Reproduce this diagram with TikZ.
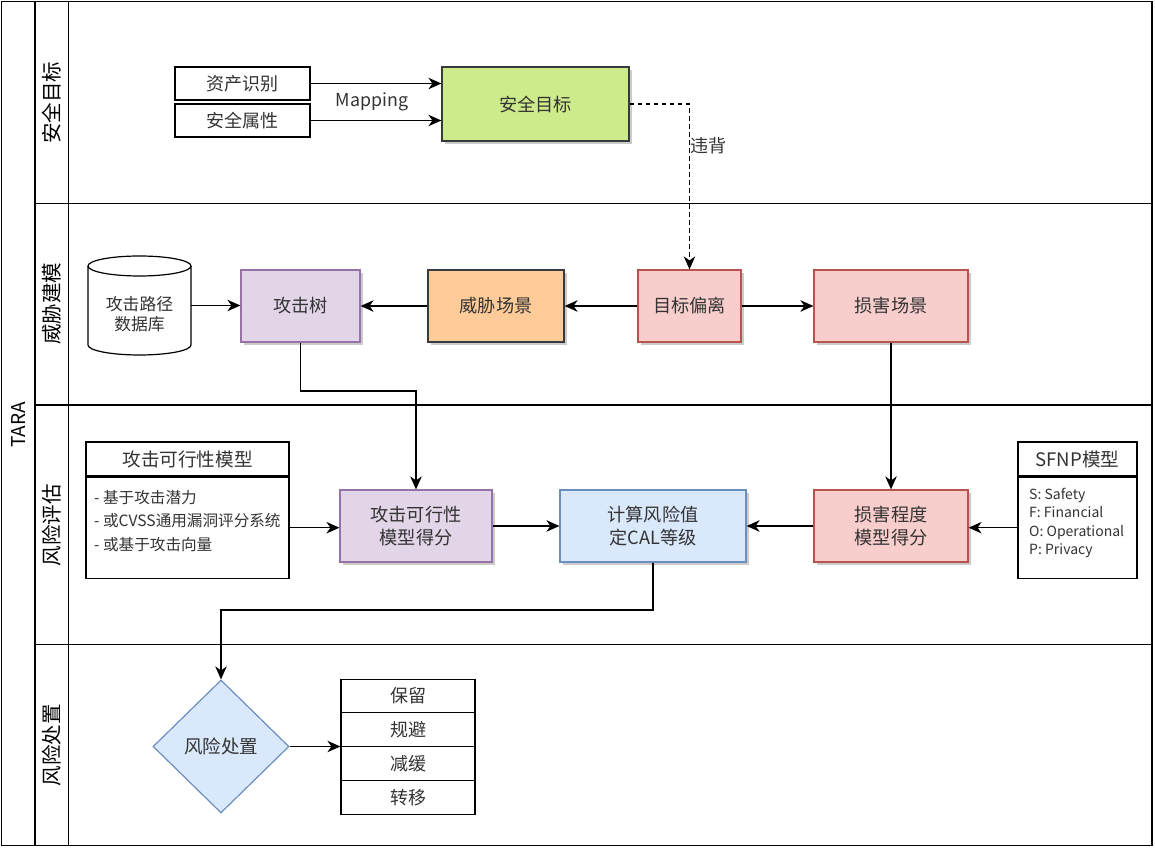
\documentclass[tikz,border=0pt]{standalone}
\usepackage{fontspec}
\setmainfont{Noto Sans CJK SC}
\usetikzlibrary{arrows.meta,shapes.geometric,shadows}
\definecolor{txt}{HTML}{333333}
\definecolor{gfill}{HTML}{CDEB8B}
\definecolor{gdraw}{HTML}{36393D}
\definecolor{pfill}{HTML}{E1D5E7}
\definecolor{pdraw}{HTML}{9673A6}
\definecolor{ofill}{HTML}{FFCC99}
\definecolor{rfill}{HTML}{F8CECC}
\definecolor{rdraw}{HTML}{B85450}
\definecolor{bfill}{HTML}{DAE8FC}
\definecolor{bdraw}{HTML}{6C8EBF}
\begin{document}
\begin{tikzpicture}[x=1pt,y=1pt,
  lane/.style={line width=1.3pt,draw=black},
  shadowed/.style={drop shadow={shadow xshift=3pt,shadow yshift=-3pt,fill=black!45,opacity=0.45}},
  box/.style={rectangle,draw,line width=1.2pt,minimum height=72pt,inner sep=0pt,align=center,text=txt,font=\fontsize{18.2}{23}\selectfont,shadowed},
  plain/.style={rectangle,draw=black,fill=white,line width=1.2pt,inner sep=0pt,align=center,text=txt,font=\fontsize{18}{22}\selectfont},
  lanelabel/.style={rotate=90,font=\fontsize{20.5}{24}\selectfont,text=black},
  arr/.style={-{Stealth[length=13pt,width=11.5pt,inset=4pt]},line width=1.3pt,draw=black},
  dasharr/.style={arr,dash pattern=on 4.5pt off 3.5pt},
  small/.style={font=\fontsize{15.6}{23.5}\selectfont,text=txt,align=left,inner sep=0pt},
  tiny/.style={font=\fontsize{14}{18.5}\selectfont,text=txt,align=left,inner sep=0pt}
]
\useasboundingbox (0,0) rectangle (1155,849);

% swimlane frame
\draw[lane] (1.5,3.5) rectangle (1152,847.5);
\draw[lane] (35,3.5) -- (35,847.5);
\draw[lane] (68.5,3.5) -- (68.5,847.5);
\draw[lane] (35,645.7) -- (1152,645.7);
\draw[lane] (35,444) -- (1152,444);
\draw[lane] (35,204.7) -- (1152,204.7);

\node[rotate=90,font=\fontsize{19}{22}\selectfont] (tara) at (18.5,424) {TARA};
\node[lanelabel] (l1) at (51.5,746) {安全目标};
\node[lanelabel] (l2) at (51.5,545) {威胁建模};
\node[lanelabel] (l3) at (51.5,324) {风险评估};
\node[lanelabel] (l4) at (51.5,104) {风险处置};

% lane 1
\node[plain,minimum width=135pt,minimum height=33pt] (asset) at (242.5,765.5) {资产识别};
\node[plain,minimum width=135pt,minimum height=33pt] (prop) at (242.5,728.5) {安全属性};
\node[box,fill=gfill,draw=gdraw,minimum width=187pt,minimum height=74pt] (goal) at (535.5,745) {安全目标};
\node[text=txt,font=\fontsize{17.8}{20}\selectfont] (map) at (372,747) {Mapping};
\draw[arr] (asset.east) -- (asset.east -| goal.west);
\draw[arr] (prop.east) -- (prop.east -| goal.west);

% lane 2
\draw[fill=white,line width=1.2pt] (88,583) -- (88,504) arc[start angle=180,end angle=360,x radius=51.5,y radius=10] -- (191,583) arc[start angle=0,end angle=180,x radius=51.5,y radius=10] -- cycle;
\draw[line width=1.2pt] (88,583) arc[start angle=180,end angle=360,x radius=51.5,y radius=10];
\node[draw=none,minimum width=103pt,minimum height=99pt,inner sep=0pt] (db) at (139.5,543.5) {};
\node[text=txt,font=\fontsize{16.8}{19.5}\selectfont,align=center] (dbl) at (139.5,535) {攻击路径\\数据库};

\node[box,fill=pfill,draw=pdraw,minimum width=119pt] (tree) at (300.5,543) {攻击树};
\node[box,fill=ofill,draw=gdraw,minimum width=136pt] (threat) at (496,543) {威胁场景};
\node[box,fill=rfill,draw=rdraw,minimum width=103pt] (dev) at (689.5,543) {目标偏离};
\node[box,fill=rfill,draw=rdraw,minimum width=154pt] (dmg) at (891,543) {损害场景};

\draw[dasharr] (goal.east) -| (dev.north);
\node[text=txt,font=\fontsize{18}{20}\selectfont] (viol) at (708,703) {违背};

\draw[arr] (db.east) -- (db.east -| tree.west);
\draw[arr] (threat.west) -- (tree.east);
\draw[arr] (dev.west) -- (threat.east);
\draw[arr] (dev.east) -- (dmg.west);

% lane 3
\node[plain,minimum width=203pt,minimum height=34pt,font=\fontsize{18.6}{22}\selectfont] (afmh) at (187.5,390) {攻击可行性模型};
\node[plain,minimum width=203pt,minimum height=101pt,anchor=north] (afm) at (afmh.south) {};
\node[small,anchor=west] (afmt) at (94,328) {- 基于攻击潜力\\- 或CVSS通用漏洞评分系统\\- 或基于攻击向量};

\node[box,fill=pfill,draw=pdraw,minimum width=152pt] (score) at (416,323) {攻击可行性\\模型得分};
\node[box,fill=bfill,draw=bdraw,minimum width=186pt] (cal) at (653,323) {计算风险值\\定CAL等级};
\node[box,fill=rfill,draw=rdraw,minimum width=154pt] (deg) at (891,323) {损害程度\\模型得分};

\node[plain,minimum width=119pt,minimum height=34pt,font=\fontsize{18.6}{22}\selectfont] (sfh) at (1077.5,390) {SFNP模型};
\node[plain,minimum width=119pt,minimum height=101pt,anchor=north] (sf) at (sfh.south) {};
\node[tiny,anchor=west] (sft) at (1029,326) {S: Safety\\F: Financial\\O: Operational\\P: Privacy};

\draw[arr] (tree.south) |- (416,458) -- (score.north);
\draw[arr] (dmg.south) -- (deg.north);
\draw[arr] (afm.east) -- (afm.east -| score.west);
\draw[arr] (score.east) -- (cal.west);
\draw[arr] (deg.west) -- (cal.east);
\draw[arr] (sf.west) -- (sf.west -| deg.east);

% lane 4
\node[diamond,draw=bdraw,fill=bfill,line width=1.2pt,minimum width=136pt,minimum height=133pt,inner sep=0pt,text=txt,font=\fontsize{18.5}{20}\selectfont] (treat) at (221,102.5) {风险处置};
\draw[arr] (cal.south) |- (221,239) -- (treat.north);

\node[plain,minimum width=134pt,minimum height=33.75pt] (o1) at (408,153) {保留};
\node[plain,minimum width=134pt,minimum height=33.75pt] (o2) at (408,119.25) {规避};
\node[plain,minimum width=134pt,minimum height=33.75pt] (o3) at (408,85.5) {减缓};
\node[plain,minimum width=134pt,minimum height=33.75pt] (o4) at (408,51.75) {转移};
\draw[arr] (treat.east) -- (treat.east -| o1.west);
\end{tikzpicture}
\end{document}
